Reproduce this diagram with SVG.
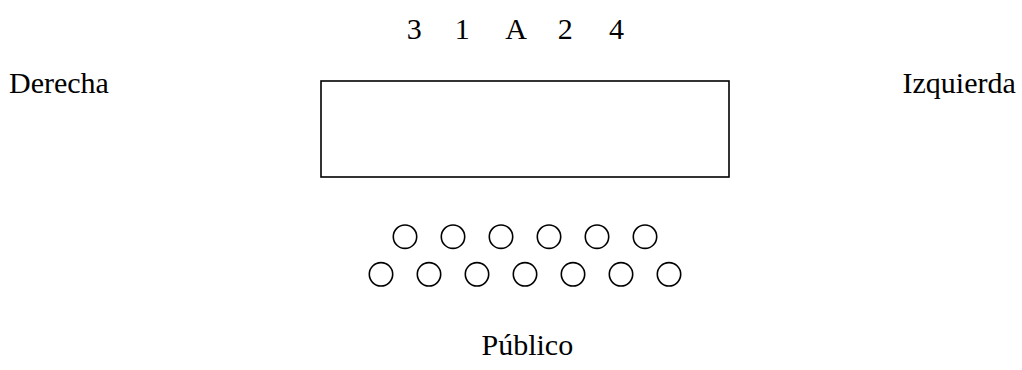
<svg xmlns="http://www.w3.org/2000/svg" width="1022" height="370" viewBox="0 0 1022 370">
<style>
text{font-family:"Liberation Serif","Times New Roman",serif;font-size:30px;fill:#000}
.seat{fill:none;stroke:#000;stroke-width:1.6}
.stage{fill:#fff;stroke:#000;stroke-width:1.6}
</style>
<rect width="1022" height="370" fill="#fff"/>
<g id="positions">
<text y="39"><tspan x="418" text-anchor="middle">3</tspan> <tspan x="466" text-anchor="middle">1</tspan> <tspan x="519" text-anchor="middle">A</tspan> <tspan x="569" text-anchor="middle">2</tspan> <tspan x="616.5" text-anchor="middle">4</tspan></text>
</g>
<g id="stage"><rect class="stage" x="321" y="81" width="408" height="96"/></g>
<g id="derecha"><text x="9" y="93">Derecha</text></g>
<g id="izquierda"><text x="902.5" y="93">Izquierda</text></g>
<g id="seats">
<circle class="seat" cx="405" cy="236.7" r="11.7"/>
<circle class="seat" cx="453" cy="236.7" r="11.7"/>
<circle class="seat" cx="501" cy="236.7" r="11.7"/>
<circle class="seat" cx="549" cy="236.7" r="11.7"/>
<circle class="seat" cx="597" cy="236.7" r="11.7"/>
<circle class="seat" cx="645" cy="236.7" r="11.7"/>
<circle class="seat" cx="381" cy="274.3" r="11.7"/>
<circle class="seat" cx="429" cy="274.3" r="11.7"/>
<circle class="seat" cx="477" cy="274.3" r="11.7"/>
<circle class="seat" cx="525" cy="274.3" r="11.7"/>
<circle class="seat" cx="573" cy="274.3" r="11.7"/>
<circle class="seat" cx="621" cy="274.3" r="11.7"/>
<circle class="seat" cx="669" cy="274.3" r="11.7"/>
</g>
<g id="publico"><text x="481.5" y="355">Público</text></g>
<g id="connectors"></g>
</svg>
